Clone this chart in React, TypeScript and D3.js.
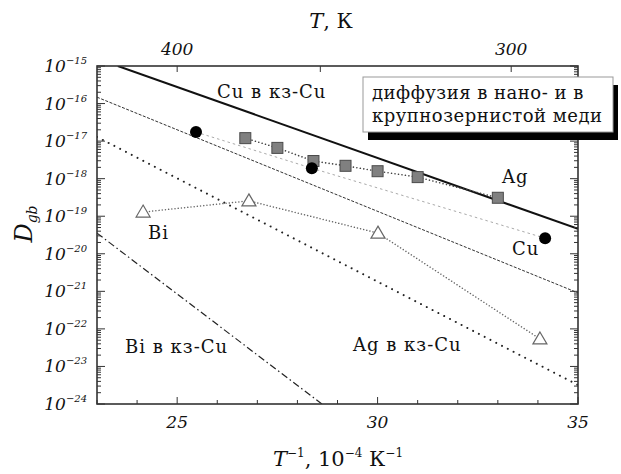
import React from "react";
import * as d3 from "d3";

const W = 621;
const H = 474;

// axis ticks
const xTicks = d3.range(23, 36);
const xLabelTicks = [25, 30, 35];
const topTempTicks = [400, 350, 300];
const topTempLabels = [400, 300];
const yDecadeExps = [-24, -23, -22, -21, -20, -19, -18, -17, -16, -15];

// Ag in nanocrystalline Cu (squares)
const agX = [26.7, 27.5, 28.4, 29.2, 30.0, 31.0, 33.0];
const agD = [1.2e-17, 6.6e-18, 2.95e-18, 2.2e-18, 1.58e-18, 1.1e-18, 3.1e-19];

// Cu self-diffusion in nanocrystalline Cu (circles)
const cuX = [25.47, 28.36, 34.18];
const cuD = [1.74e-17, 1.9e-18, 2.6e-20];

// Bi in nanocrystalline Cu (triangles)
const biX = [24.15, 26.79, 30.01, 34.05];
const biD = [1.29e-19, 2.57e-19, 3.55e-20, 5.4e-23];

// Arrhenius lines
const cuCgX = [23.52, 35];
const cuCgD = [1e-15, 4.6e-20];
const nanoFitX = [23, 35];
const nanoFitD = [1.48e-16, 9.1e-22];
const agCgX = [23, 35];
const agCgD = [1.29e-17, 3.2e-24];
const biCgX = [23, 28.61];
const biCgD = [3.55e-20, 1e-24];

const FONT = "'DejaVu Serif', 'Liberation Serif', serif";

export default function App() {
  const left = 97, right = 578, top = 66, bottom = 404;
  const x = d3.scaleLinear().domain([23, 35]).range([left, right]);
  const y = d3.scaleLog().domain([1e-24, 1e-15]).range([bottom, top]);

  const line = d3
    .line<[number, number]>()
    .x((d) => x(d[0]))
    .y((d) => y(d[1]));
  const pts = (xs: number[], ds: number[]) =>
    xs.map((v, i) => [v, ds[i]] as [number, number]);

  // log ticks on the y axis
  const minorY: number[] = [];
  for (let e = -24; e < -15; e++) {
    for (let m = 2; m <= 9; m++) minorY.push(m * Math.pow(10, e));
  }
  const majorY = yDecadeExps.map((e) => Math.pow(10, e));

  const triPath = "M0,-7 L7,5 L-7,5 Z";

  return (
    <svg width={W} height={H} style={{ display: "block", position: "absolute", left: 0, top: 0 }}>
      <defs>
        <clipPath id="plotClip">
          <rect x={left} y={top} width={right - left} height={bottom - top} />
        </clipPath>
      </defs>
      <rect x={0} y={0} width={W} height={H} fill="#fff" />

      {/* lines */}
      <g clipPath="url(#plotClip)" fill="none">
        <path d={line(pts(cuCgX, cuCgD)) || ""} stroke="#111" strokeWidth={2} />
        <path d={line(pts(nanoFitX, nanoFitD)) || ""} stroke="#333" strokeWidth={1} strokeDasharray="3,1.5" />
        <path d={line(pts(agCgX, agCgD)) || ""} stroke="#222" strokeWidth={2} strokeDasharray="0.01,6.5" strokeLinecap="round" />
        <path d={line(pts(biCgX, biCgD)) || ""} stroke="#222" strokeWidth={1.2} strokeDasharray="7,3,1.5,3" />
        <path d={line(pts(cuX, cuD)) || ""} stroke="#aaa" strokeWidth={1} strokeDasharray="2.5,3" />
        <path d={line(pts(agX, agD)) || ""} stroke="#444" strokeWidth={1.6} strokeDasharray="0.01,3.5" strokeLinecap="round" />
        <path d={line(pts(biX, biD)) || ""} stroke="#666" strokeWidth={1.5} strokeDasharray="0.01,3.2" strokeLinecap="round" />
      </g>

      {/* markers */}
      {agX.map((v, i) => (
        <rect key={"a" + i} x={x(v) - 5.5} y={y(agD[i]) - 5.5} width={11} height={11} fill="#808080" stroke="#4a4a4a" strokeWidth={1} />
      ))}
      {cuX.map((v, i) => (
        <circle key={"c" + i} cx={x(v)} cy={y(cuD[i])} r={6} fill="#000" />
      ))}
      {biX.map((v, i) => (
        <path key={"b" + i} d={triPath} transform={`translate(${x(v)},${y(biD[i])})`} fill="#fff" stroke="#666" strokeWidth={1.2} />
      ))}

      {/* frame and ticks */}
      <g stroke="#333" strokeWidth={1}>
        {xTicks.map((t) => {
          const len = t % 5 === 0 ? 7 : 4;
          return <line key={"xt" + t} x1={x(t)} x2={x(t)} y1={bottom} y2={bottom - len} />;
        })}
        {topTempTicks.map((T) => (
          <line key={"tt" + T} x1={x(1e4 / T)} x2={x(1e4 / T)} y1={top} y2={top + 6} />
        ))}
        {majorY.map((v, i) => (
          <g key={"my" + i}>
            <line x1={left} x2={left + 8} y1={y(v)} y2={y(v)} />
            <line x1={right} x2={right - 8} y1={y(v)} y2={y(v)} />
          </g>
        ))}
        {minorY.map((v, i) => (
          <g key={"ny" + i}>
            <line x1={left} x2={left + 4} y1={y(v)} y2={y(v)} />
            <line x1={right} x2={right - 4} y1={y(v)} y2={y(v)} />
          </g>
        ))}
        <rect x={left} y={top} width={right - left} height={bottom - top} fill="none" strokeWidth={1.6} />
      </g>

      {/* tick labels */}
      <g fontFamily={FONT} fontStyle="italic" fill="#111">
        {xLabelTicks.map((t) => (
          <text key={"xl" + t} x={x(t)} y={428} fontSize={17} textAnchor="middle">
            {t}
          </text>
        ))}
        {topTempLabels.map((T) => (
          <text key={"tl" + T} x={x(1e4 / T)} y={55} fontSize={17} textAnchor="middle">
            {T}
          </text>
        ))}
        {yDecadeExps.map((e) => (
          <text key={"yl" + e} x={87} y={y(Math.pow(10, e)) + 6} fontSize={17} textAnchor="end">
            <tspan>10</tspan>
            <tspan fontSize={10} dy={-8}>{"\u2212" + Math.abs(e)}</tspan>
          </text>
        ))}
      </g>

      {/* axis titles */}
      <g fontFamily={FONT} fill="#111">
        <text x={331} y={28} fontSize={21} textAnchor="middle">
          <tspan fontStyle="italic">T</tspan>
          <tspan>, К</tspan>
        </text>
        <text x={338} y={466} fontSize={21} textAnchor="middle">
          <tspan fontStyle="italic">T</tspan>
          <tspan fontSize={12} dy={-9}>{"\u22121"}</tspan>
          <tspan fontSize={21} dy={9}>, 10</tspan>
          <tspan fontSize={12} dy={-9}>{"\u22124"}</tspan>
          <tspan fontSize={21} dy={9}> К</tspan>
          <tspan fontSize={12} dy={-9}>{"\u22121"}</tspan>
        </text>
        <text transform="translate(32,224) rotate(-90)" fontSize={24} textAnchor="middle" fontStyle="italic">
          <tspan>D</tspan>
          <tspan fontSize={14} dy={5}>gb</tspan>
        </text>
      </g>

      {/* in-plot labels */}
      <g fontFamily={FONT} fill="#111" fontSize={18} letterSpacing={1}>
        <text x={217} y={98}>Cu в кз-Cu</text>
        <text x={502} y={183}>Ag</text>
        <text x={512} y={255}>Cu</text>
        <text x={148} y={239}>Bi</text>
        <text x={125} y={353}>Bi в кз-Cu</text>
        <text x={353} y={351}>Ag в кз-Cu</text>
      </g>

      {/* caption box */}
      <rect x={368} y={85} width={250} height={55} fill="#000" />
      <rect x={363} y={77} width={250} height={55} fill="#fff" stroke="#999" strokeWidth={1} />
      <g fontFamily={FONT} fill="#111" fontSize={18} letterSpacing={0.5}>
        <text x={372} y={99}>диффузия в нано- и в</text>
        <text x={372} y={122}>крупнозернистой меди</text>
      </g>
    </svg>
  );
}
